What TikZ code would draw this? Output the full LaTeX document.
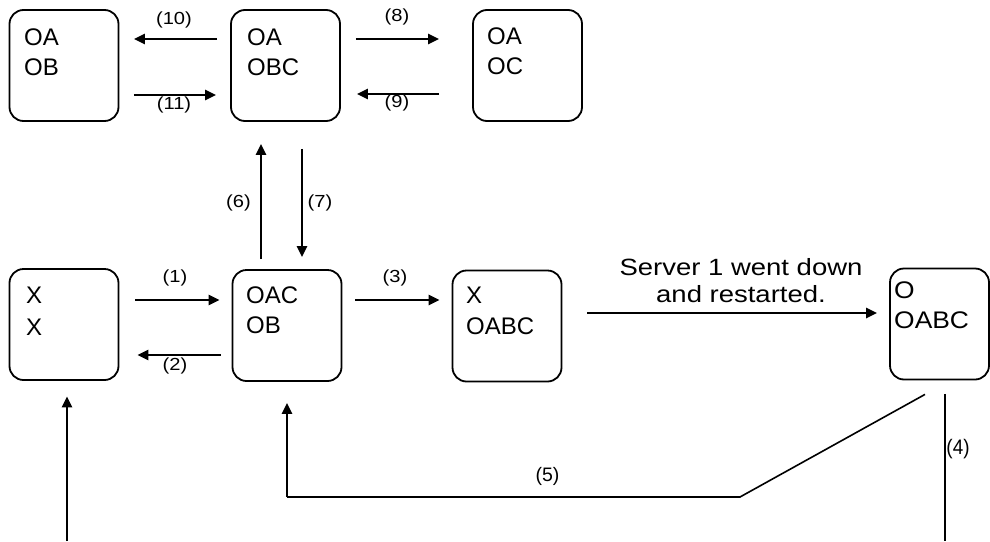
\documentclass[tikz,border=0pt]{standalone}
\usepackage{fontspec}
\setmainfont{Liberation Sans}
\newfontfamily\lfnt[FakeStretch=1.15]{Liberation Sans}
\newfontfamily\sfnt[FakeStretch=1.17]{Liberation Sans}
\newfontfamily\cfnt[FakeStretch=1.1]{Liberation Sans}
\newfontfamily\qfnt[FakeStretch=0.9]{Liberation Sans}
\usetikzlibrary{arrows.meta}
\begin{document}
\begin{tikzpicture}[x=1pt,y=-1pt,
  box/.style={draw, line width=1.8pt, rounded corners=14pt, minimum width=109pt, minimum height=111pt, inner sep=0pt},
  arr/.style={line width=2.8pt, -{Triangle[length=11pt,width=10pt]}},
  txt/.style={anchor=base west, inner sep=0pt, font=\fontsize{24}{28}\selectfont},
  ctxt/.style={anchor=base west, inner sep=0pt, font=\cfnt\fontsize{24}{28}\selectfont},
  lab/.style={inner sep=0pt, font=\lfnt\fontsize{17.5}{20}\selectfont},
  srv/.style={anchor=base, inner sep=0pt, font=\sfnt\fontsize{23.5}{27}\selectfont}]
\useasboundingbox (0,0) rectangle (990,541);
\fill[white] (0,0) rectangle (990,541);

% boxes
\node[box] (b1) at (64,65.5) {};
\node[box] (b2) at (285.5,65.5) {};
\node[box] (b3) at (527.5,65.5) {};
\node[box] (c1) at (64,324.5) {};
\node[box] (c2) at (287,325.5) {};
\node[box] (c3) at (507,326) {};
\node[box, minimum width=99pt] (c4) at (939.5,324) {};

% box texts
\node[txt] (b1a) at (24,45) {OA};
\node[txt] (b1b) at (24,75) {OB};
\node[txt] (b2a) at (247,45) {OA};
\node[txt] (b2b) at (247,75) {OBC};
\node[txt] (b3a) at (487,44) {OA};
\node[txt] (b3b) at (487,74) {OC};
\node[txt] (c1a) at (26,303) {X};
\node[txt] (c1b) at (26,335) {X};
\node[txt] (c2a) at (246,303) {OAC};
\node[txt] (c2b) at (246,333) {OB};
\node[txt] (c3a) at (466,303) {X};
\node[txt] (c3b) at (466,334) {OABC};
\node[ctxt] (c4a) at (894,298) {O};
\node[ctxt] (c4b) at (894,328) {OABC};

% top row arrows
\draw[arr] ([shift={(-13,-26.5)}]b2.west) -- ([shift={(14.5,-26.5)}]b1.east);
\draw[arr] ([shift={(14.5,29.5)}]b1.east) -- ([shift={(-14,29.5)}]b2.west);
\draw[arr] ([shift={(15,-26.5)}]b2.east) -- ([shift={(-33,-26.5)}]b3.west);
\draw[arr] ([shift={(-33,28.5)}]b3.west) -- ([shift={(16,28.5)}]b2.east);

% vertical arrows
\draw[arr] ([shift={(-26,-10)}]c2.north) -- ([shift={(-24.5,22)}]b2.south);
\draw[arr] ([shift={(16.5,27)}]b2.south) -- ([shift={(15,-12)}]c2.north);

% bottom row arrows
\draw[arr] ([shift={(16,-24.5)}]c1.east) -- ([shift={(-12,-25.5)}]c2.west);
\draw[arr] ([shift={(-11,29.5)}]c2.west) -- ([shift={(18,30.5)}]c1.east);
\draw[arr] ([shift={(13,-25.5)}]c2.east) -- ([shift={(-12,-26)}]c3.west);
\draw[arr] ([shift={(25,-13)}]c3.east) -- ([shift={(-12,-11)}]c4.west);

% return paths
\coordinate (k5a) at (740,497);
\coordinate (k5b) at (287,497);
\coordinate (k4) at (945,541);
\coordinate (k0) at (67,541);
\draw[line width=1.6pt] ([shift={(-14.5,14)}]c4.south) -- (k5a) -- (k5b);
\draw[arr] (k5b) -- ([shift={(0,21)}]c2.south);
\draw[line width=1.3pt] ([shift={(5.5,13.5)}]c4.south) -- (k4);
\draw[arr] (k0) -- ([shift={(3,15.5)}]c1.south);

% labels
\node[lab] (l10) at (174,20) {(10)};
\node[lab] (l11) at (174,105) {(11)};
\node[lab] (l8) at (397,17) {(8)};
\node[lab] (l9) at (397,103) {(9)};
\node[lab] (l6) at (238.5,203) {(6)};
\node[lab] (l7) at (320,203) {(7)};
\node[lab] (l1) at (175,278) {(1)};
\node[lab] (l2) at (175,366) {(2)};
\node[lab] (l3) at (395,278) {(3)};
\node[inner sep=0pt, font=\fontsize{19.5}{22}\selectfont] (l5) at (547.5,476) {(5)};
\node[inner sep=0pt, font=\qfnt\fontsize{21}{24}\selectfont] (l4) at (958,449) {(4)};
\node[srv] (s1) at (741,275) {Server 1 went down};
\node[srv] (s2) at (741,302) {and restarted.};
\end{tikzpicture}
\end{document}
